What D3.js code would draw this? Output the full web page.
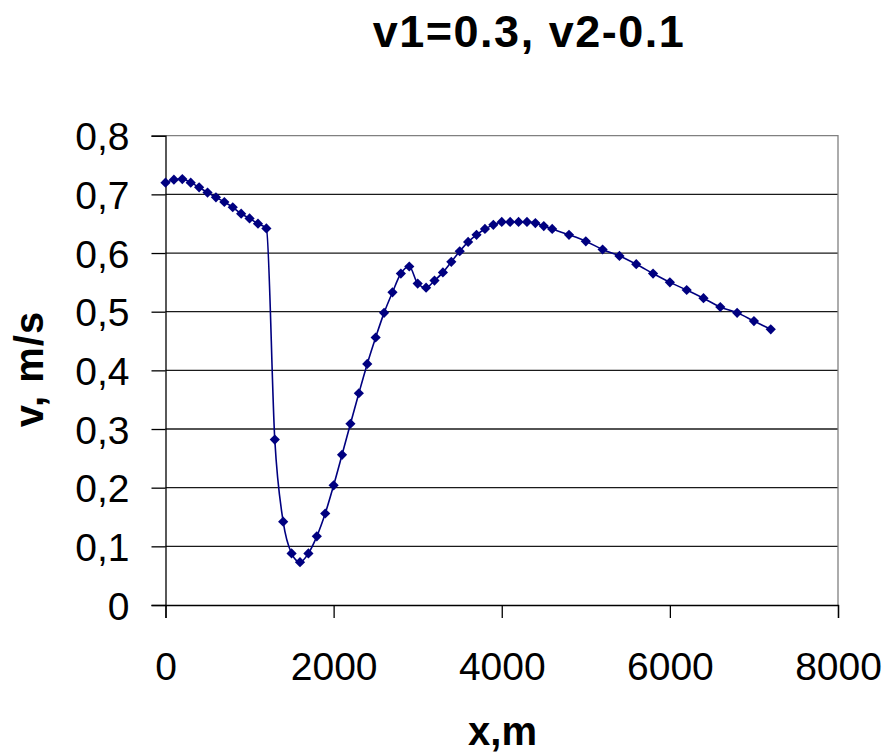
<!DOCTYPE html>
<html><head><meta charset="utf-8">
<script src="https://cdn.jsdelivr.net/npm/d3@7"></script>
<style>body{margin:0;background:#fff}svg{display:block}</style>
</head><body>
<script>
const xValues = [0,100,200,300,400,500,600,700,800,900,1000,1100,1200,1300,1400,1500,1600,1700,1800,1900,2000,2100,2200,2300,2400,2500,2600,2700,2800,2900,3000,3100,3200,3300,3400,3500,3600,3700,3800,3900,4000,4100,4200,4300,4400,4500,4600,4800,5000,5200,5400,5600,5800,6000,6200,6400,6600,6800,7000,7200];
const vValues = [0.720,0.725,0.726,0.720,0.712,0.703,0.695,0.687,0.678,0.667,0.659,0.650,0.642,0.282,0.142,0.088,0.073,0.088,0.117,0.156,0.204,0.256,0.309,0.361,0.411,0.456,0.498,0.533,0.565,0.577,0.548,0.541,0.553,0.567,0.585,0.603,0.619,0.631,0.641,0.648,0.653,0.653,0.653,0.653,0.651,0.646,0.641,0.631,0.620,0.606,0.595,0.581,0.565,0.550,0.537,0.523,0.508,0.498,0.484,0.470];
const xTicks = [0,2000,4000,6000,8000];
const yTicks = [0,0.1,0.2,0.3,0.4,0.5,0.6,0.7,0.8];
const title = "v1=0.3, v2-0.1";
const xTitle = "x,m";
const yTitle = "v, m/s";

const W = 888, H = 754;
const L = 165.5, R = 838, T = 135.7, B = 605;
const svg = d3.select("body").append("svg").attr("width", W).attr("height", H);
const x = d3.scaleLinear().domain([0, 8000]).range([L, R]);
const y = d3.scaleLinear().domain([0, 0.8]).range([B, T]);
const font = "'Liberation Sans', Arial, sans-serif";

// gridlines
svg.append("g").selectAll("line").data(yTicks.filter(d => d > 0 && d < 0.8)).join("line")
  .attr("x1", L).attr("x2", R).attr("y1", d => y(d)).attr("y2", d => y(d))
  .attr("stroke", "#1a1a1a").attr("stroke-width", 1.3);
// plot border top/right (gray)
svg.append("path").attr("d", `M${L},${y(0.8)}H${R}V${B}`).attr("fill", "none")
  .attr("stroke", "#808080").attr("stroke-width", 1.3);

// axes
const yAxis = d3.axisLeft(y).tickValues(yTicks).tickSize(14).tickPadding(22)
  .tickFormat(d => d3.format(".1f")(d).replace(".", ",").replace(/^0,0$/, "0"));
const gy = svg.append("g").attr("transform", `translate(${L},0)`).call(yAxis);
const xAxis = d3.axisBottom(x).tickValues(xTicks).tickSize(13).tickPadding(34).tickFormat(d3.format("d"));
const gx = svg.append("g").attr("transform", `translate(0,${B})`).call(xAxis);
[gx, gy].forEach(g => {
  g.select(".domain").attr("stroke", "#000").attr("stroke-width", 1.3);
  g.selectAll(".tick line").attr("stroke", "#000").attr("stroke-width", 1.3);
  g.selectAll(".tick text").attr("fill", "#000").style("font-family", font).style("font-size", "39px");
});
gy.selectAll(".tick text").attr("dy", "0.36em");
gx.selectAll(".tick text").attr("dy", "0.71em");

// line
const pts = xValues.map((d, i) => [d, vValues[i]]);
svg.append("path").datum(pts)
  .attr("d", d3.line().x(d => x(d[0])).y(d => y(d[1])).curve(d3.curveMonotoneX))
  .attr("fill", "none").attr("stroke", "#000080").attr("stroke-width", 1.6);

// markers
const sym = d3.symbol().type(d3.symbolSquare).size(52);
svg.append("g").selectAll("path").data(pts).join("path")
  .attr("d", sym)
  .attr("transform", d => `translate(${x(d[0])},${y(d[1])}) rotate(45)`)
  .attr("fill", "#000080");

// titles
svg.append("text").text(title).attr("x", 529).attr("y", 47).attr("text-anchor", "middle")
  .style("font-family", font).style("font-weight", "bold").style("font-size", "45px").style("letter-spacing", "1.5px");
svg.append("text").text(xTitle).attr("x", 502.5).attr("y", 745).attr("text-anchor", "middle")
  .style("font-family", font).style("font-weight", "bold").style("font-size", "40px");
svg.append("text").text(yTitle).attr("transform", "translate(43,369) rotate(-90)").attr("text-anchor", "middle")
  .style("font-family", font).style("font-weight", "bold").style("font-size", "40px").style("letter-spacing", "1px");
</script>
</body></html>
